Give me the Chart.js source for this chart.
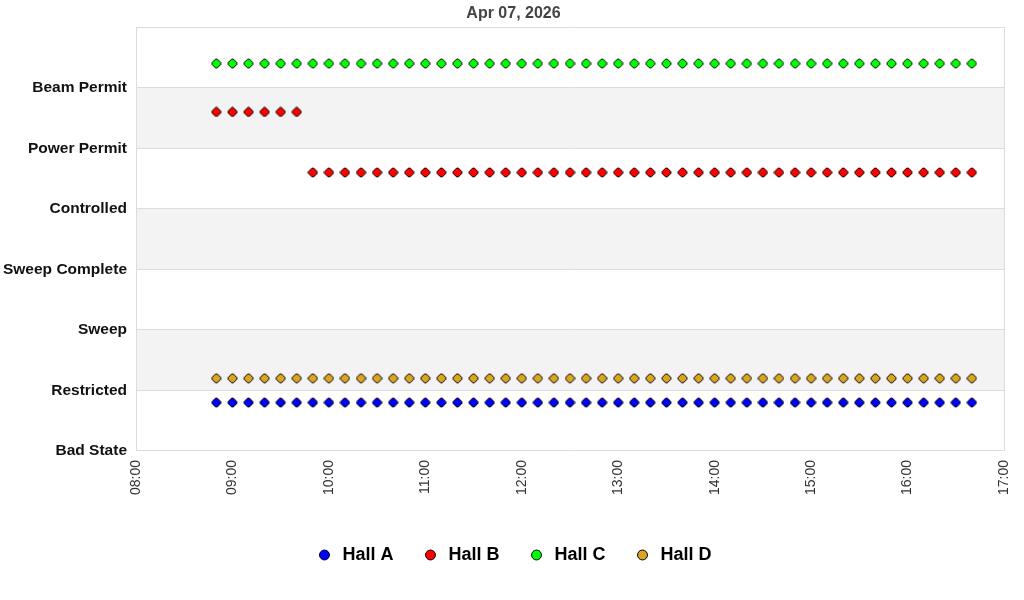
<!DOCTYPE html>
<html>
<head>
<meta charset="utf-8">
<script src="https://cdn.jsdelivr.net/npm/chart.js@4"></script>
<style>
html,body{margin:0;padding:0;background:#fff;}
#wrap{width:1024px;height:600px;position:relative;}
</style>
</head>
<body>
<div id="wrap"><canvas id="c"></canvas></div>
<script>
const titleText = "Apr 07, 2026";
const stateLabels = ["Bad State","Restricted","Sweep","Sweep Complete","Controlled","Power Permit","Beam Permit",""];
const xTickLabels = ["08:00","09:00","10:00","11:00","12:00","13:00","14:00","15:00","16:00","17:00"];
const seriesNames = ["Hall A","Hall B","Hall C","Hall D"];
const seriesColors = ["#0000ff","#ff0000","#00ff00","#daa520"];

const times = ["08:50",
  "09:00","09:10","09:20","09:30","09:40","09:50",
  "10:00","10:10","10:20","10:30","10:40","10:50",
  "11:00","11:10","11:20","11:30","11:40","11:50",
  "12:00","12:10","12:20","12:30","12:40","12:50",
  "13:00","13:10","13:20","13:30","13:40","13:50",
  "14:00","14:10","14:20","14:30","14:40","14:50",
  "15:00","15:10","15:20","15:30","15:40","15:50",
  "16:00","16:10","16:20","16:30","16:40"];

const hallA = [0.8,
  0.8,0.8,0.8,0.8,0.8,0.8,
  0.8,0.8,0.8,0.8,0.8,0.8,
  0.8,0.8,0.8,0.8,0.8,0.8,
  0.8,0.8,0.8,0.8,0.8,0.8,
  0.8,0.8,0.8,0.8,0.8,0.8,
  0.8,0.8,0.8,0.8,0.8,0.8,
  0.8,0.8,0.8,0.8,0.8,0.8,
  0.8,0.8,0.8,0.8,0.8];
const hallB = [5.6,
  5.6,5.6,5.6,5.6,5.6,4.6,
  4.6,4.6,4.6,4.6,4.6,4.6,
  4.6,4.6,4.6,4.6,4.6,4.6,
  4.6,4.6,4.6,4.6,4.6,4.6,
  4.6,4.6,4.6,4.6,4.6,4.6,
  4.6,4.6,4.6,4.6,4.6,4.6,
  4.6,4.6,4.6,4.6,4.6,4.6,
  4.6,4.6,4.6,4.6,4.6];
const hallC = [6.4,
  6.4,6.4,6.4,6.4,6.4,6.4,
  6.4,6.4,6.4,6.4,6.4,6.4,
  6.4,6.4,6.4,6.4,6.4,6.4,
  6.4,6.4,6.4,6.4,6.4,6.4,
  6.4,6.4,6.4,6.4,6.4,6.4,
  6.4,6.4,6.4,6.4,6.4,6.4,
  6.4,6.4,6.4,6.4,6.4,6.4,
  6.4,6.4,6.4,6.4,6.4];
const hallD = [1.2,
  1.2,1.2,1.2,1.2,1.2,1.2,
  1.2,1.2,1.2,1.2,1.2,1.2,
  1.2,1.2,1.2,1.2,1.2,1.2,
  1.2,1.2,1.2,1.2,1.2,1.2,
  1.2,1.2,1.2,1.2,1.2,1.2,
  1.2,1.2,1.2,1.2,1.2,1.2,
  1.2,1.2,1.2,1.2,1.2,1.2,
  1.2,1.2,1.2,1.2,1.2];
const seriesValues = [hallA, hallB, hallC, hallD];

function toMin(t){ const p = t.split(":"); return (+p[0])*60 + (+p[1]); }
function fmt(m){ const h = Math.floor(m/60), mm = m%60; return String(h).padStart(2,"0")+":"+String(mm).padStart(2,"0"); }

const xMin = toMin(xTickLabels[0]);
const xMax = toMin(xTickLabels[xTickLabels.length-1]);

// marker glyph: diamond with blunted tips
function markerFor(color){
  const s = 11, c = s/2, r = 4.4, t = 0.9;
  const cv = document.createElement("canvas");
  cv.width = s; cv.height = s;
  const g = cv.getContext("2d");
  g.beginPath();
  g.moveTo(c-t, c-r); g.lineTo(c+t, c-r);
  g.lineTo(c+r, c-t); g.lineTo(c+r, c+t);
  g.lineTo(c+t, c+r); g.lineTo(c-t, c+r);
  g.lineTo(c-r, c+t); g.lineTo(c-r, c-t);
  g.closePath();
  g.fillStyle = color; g.fill();
  g.lineWidth = 1; g.strokeStyle = "#000"; g.stroke();
  return cv;
}

const datasets = seriesNames.map((name,i)=>({
  label: name,
  data: times.map((t,j)=>({x: toMin(t), y: seriesValues[i][j]})),
  backgroundColor: seriesColors[i],
  borderColor: "#000",
  borderWidth: 1,
  pointStyle: markerFor(seriesColors[i]),
  pointRadius: 5,
  pointHoverRadius: 5,
  showLine: false
}));

const bandsPlugin = {
  id: "bands",
  beforeDraw(chart){
    const {ctx, chartArea:a, scales:{y}} = chart;
    ctx.save();
    ctx.fillStyle = "#fff";
    ctx.fillRect(0,0,chart.width,chart.height);
    ctx.fillStyle = "#f3f3f3";
    for (let v = 1; v < 7; v += 2) {
      const top = y.getPixelForValue(v+1), bot = y.getPixelForValue(v);
      ctx.fillRect(a.left, top, a.right-a.left, bot-top);
    }
    ctx.restore();
  },
  afterLayout(chart){
    if (chart.legend) { chart.legend.left += 10; chart.legend.right += 10; }
    if (chart.titleBlock) { chart.titleBlock.left += 10; chart.titleBlock.right += 10; }
  },
  afterDraw(chart){
    const {ctx, chartArea:a} = chart;
    ctx.save();
    ctx.strokeStyle = "#dcdcdc";
    ctx.lineWidth = 1;
    ctx.beginPath();
    ctx.moveTo(Math.round(a.right)+0.5, a.top);
    ctx.lineTo(Math.round(a.right)+0.5, a.bottom);
    ctx.stroke();
    ctx.restore();
  }
};

new Chart(document.getElementById("c"), {
  type: "scatter",
  data: { datasets },
  plugins: [bandsPlugin],
  options: {
    responsive: true,
    maintainAspectRatio: false,
    animation: false,
    layout: { padding: { left: 3, right: 20, top: 0, bottom: 26 } },
    plugins: {
      title: {
        display: true, text: titleText,
        color: "#444",
        font: { family: "'Liberation Sans', Arial, sans-serif", size: 16, weight: "bold" },
        padding: { top: 4, bottom: 4 }
      },
      legend: {
        position: "bottom",
        labels: {
          usePointStyle: true, pointStyle: "circle",
          boxWidth: 18, boxHeight: 7,
          padding: 28,
          color: "#000",
          font: { family: "'Liberation Sans', Arial, sans-serif", size: 18, weight: "bold" },
          generateLabels(chart){
            return chart.data.datasets.map((d,i)=>({
              text: d.label, fillStyle: d.backgroundColor, strokeStyle: "#000",
              lineWidth: 1, pointStyle: "circle", datasetIndex: i, hidden: false, fontColor: "#000"
            }));
          }
        }
      },
      tooltip: { enabled: false }
    },
    scales: {
      x: {
        type: "linear", min: xMin, max: xMax,
        afterFit: s => { s.height += 14; s.paddingRight = 0; s.paddingLeft = 0; },
        ticks: {
          stepSize: 60, autoSkip: false, maxRotation: 90, minRotation: 90,
          color: "#333", padding: 9,
          font: { family: "'Liberation Sans', Arial, sans-serif", size: 14 },
          callback: v => fmt(v)
        },
        grid: { display: false, drawTicks: false },
        border: { display: true, color: "#dcdcdc" }
      },
      y: {
        type: "linear", min: 0, max: 7,
        afterFit: s => { s.width = 133; },
        ticks: {
          stepSize: 1, color: "#111", padding: 9,
          font: { family: "'Liberation Sans', Arial, sans-serif", size: 15.5, weight: "bold" },
          callback: v => stateLabels[v]
        },
        grid: { color: "#dcdcdc", drawTicks: false },
        border: { display: true, color: "#dcdcdc" }
      }
    }
  }
});
</script>
</body>
</html>
